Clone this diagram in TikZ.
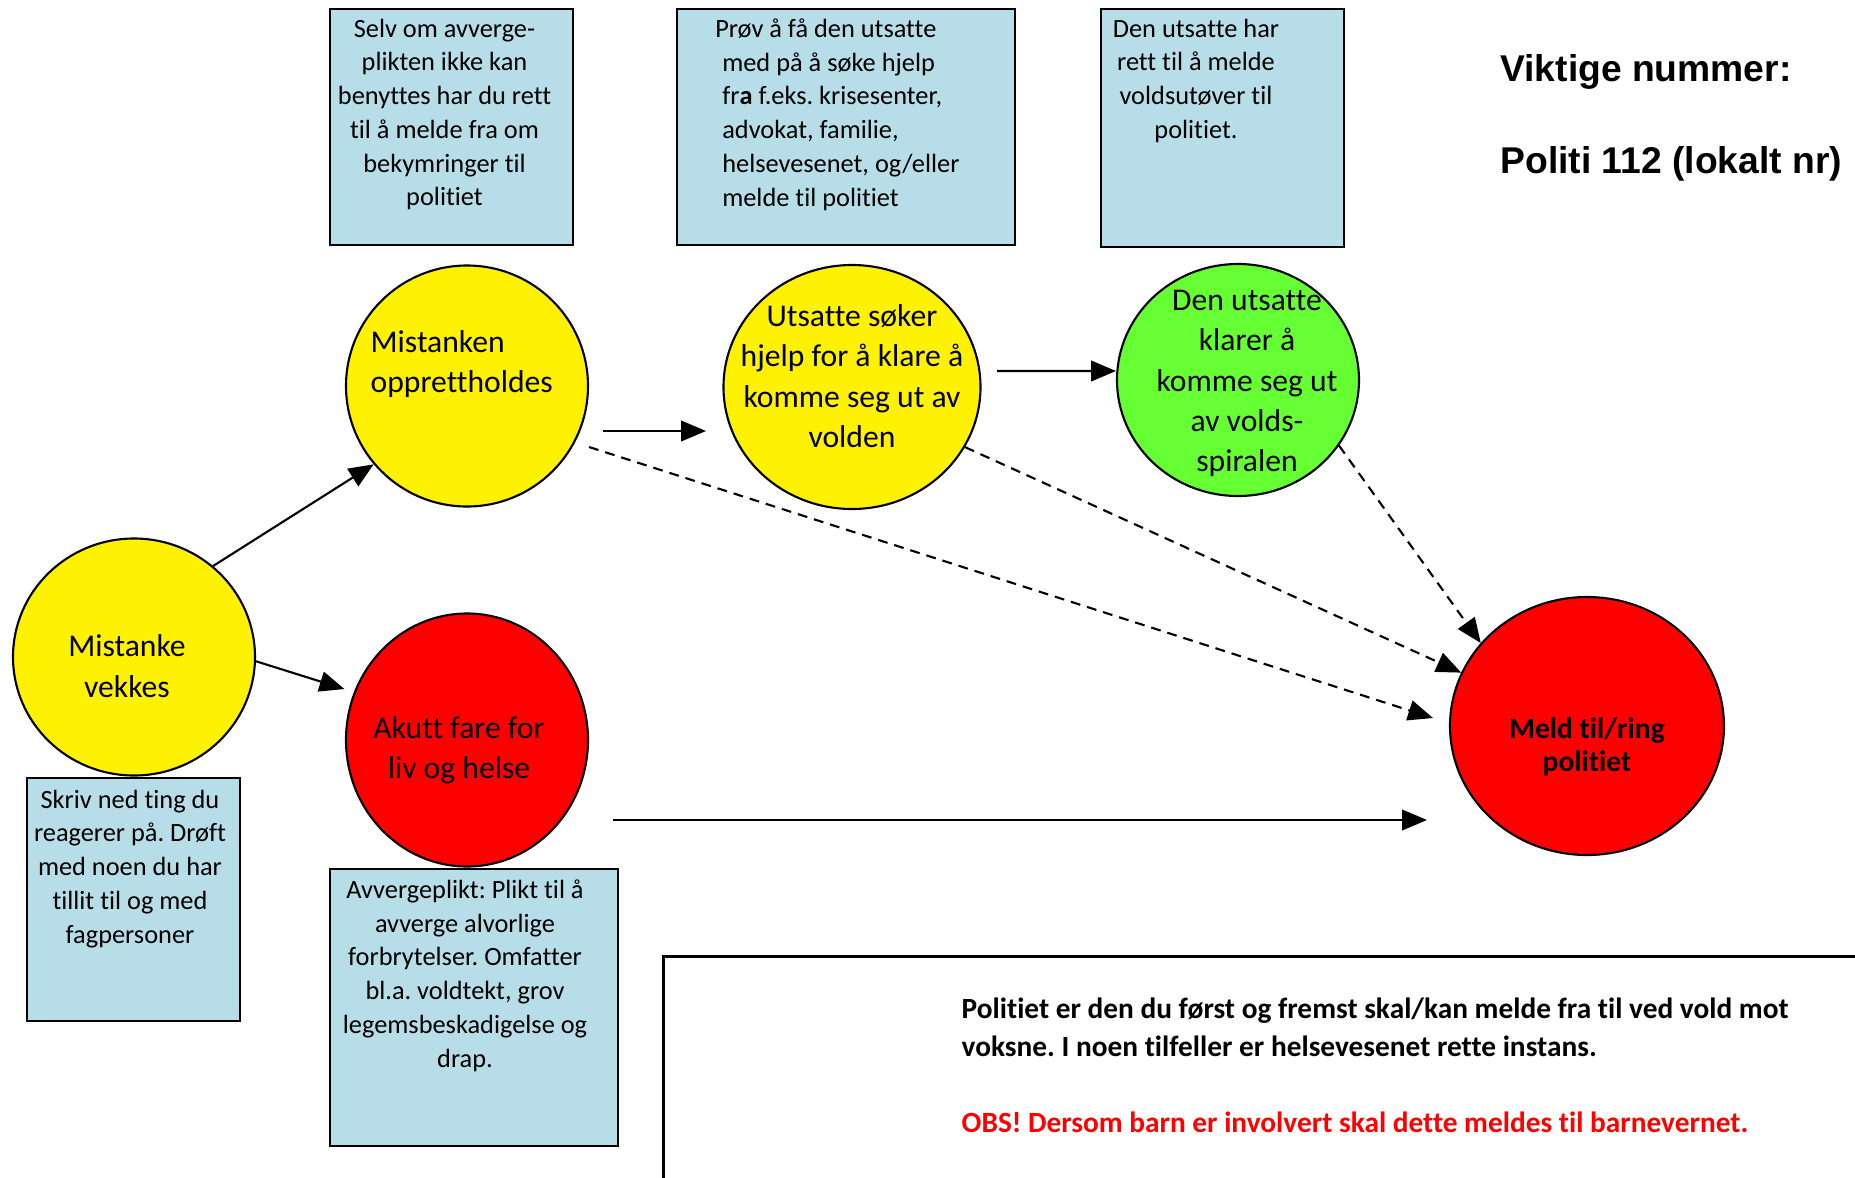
\documentclass[tikz,border=0pt]{standalone}
\usepackage{fontspec}
\setmainfont{Carlito}[Ligatures=NoCommon]
\newfontfamily\arialfont{Liberation Sans}
\frenchspacing
\usetikzlibrary{arrows}
\usetikzlibrary{positioning}
\usetikzlibrary{shapes.geometric}

\definecolor{boxblue}{HTML}{B7DEE8}
\definecolor{lysgronn}{HTML}{66FF33}

\tikzset{
  sirkel/.style={ellipse, draw, line width=0.6pt, inner sep=0pt},
  sirkeltxt/.style={font=\fontsize{9}{11.5}\selectfont, align=center, inner sep=0pt},
  infoboks/.style={rectangle, draw, line width=0.8pt, fill=boxblue, inner sep=0pt},
  infotxt/.style={font=\fontsize{7.5}{9.6}\selectfont, align=center, inner sep=0pt},
  pil/.style={->, >=triangle 45, line width=0.6pt},
  stiplet/.style={pil, dash pattern=on 2.8pt off 2pt}
}

\begin{document}
\begin{tikzpicture}
\useasboundingbox (0,0) rectangle (18.55,-11.77);

% sirkler
\node[sirkel, fill=yellow, minimum width=2.42cm, minimum height=2.37cm] (vekkes) at (1.34,-6.57) {};
\node[sirkel, fill=yellow, minimum width=2.42cm, minimum height=2.41cm] (mistanken) at (4.67,-3.86) {};
\node[sirkel, fill=yellow, minimum width=2.57cm, minimum height=2.44cm] (utsatte) at (8.52,-3.87) {};
\node[sirkel, fill=lysgronn, minimum width=2.42cm, minimum height=2.32cm] (klarer) at (12.38,-3.80) {};
\node[sirkel, fill=red, minimum width=2.42cm, minimum height=2.53cm] (akutt) at (4.67,-7.40) {};
\node[sirkel, fill=red, minimum width=2.74cm, minimum height=2.58cm] (meld) at (15.87,-7.26) {};

\node[sirkeltxt] (vekkestxt) at ([shift={(-0.07,-0.09)}]vekkes.center) {Mistanke\\vekkes};
\node[sirkeltxt, align=left, anchor=west] (mistankentxt) at ([shift={(-0.97,0.22)}]mistanken.center) {Mistanken\\opprettholdes};
\node[sirkeltxt] (utsattetxt) at ([yshift=0.11cm]utsatte.center) {Utsatte søker\\hjelp for å klare å\\komme seg ut av\\volden};
\node[sirkeltxt] (klarertxt) at ([shift={(0.09,-0.035)}]klarer.center) {Den utsatte\\klarer å\\komme seg ut\\av volds-\\spiralen};
\node[sirkeltxt] (akutttxt) at ([shift={(-0.08,-0.1)}]akutt.center) {Akutt fare for\\liv og helse};
\node[sirkeltxt, font=\bfseries\fontsize{8.4}{9.2}\selectfont] (meldtxt) at ([yshift=-0.21cm]meld.center) {Meld til/ring\\politiet};

% bokser
\node[infoboks, minimum width=2.43cm, minimum height=2.36cm] (selvbox) at (4.515,-1.27) {};
\node[infotxt, below=0.105cm of selvbox.north, xshift=-0.07cm] (selvtxt) {Selv om avverge-\\plikten ikke kan\\benyttes har du rett\\til å melde fra om\\bekymringer til\\politiet};

\node[infoboks, minimum width=3.38cm, minimum height=2.36cm] (provbox) at (8.46,-1.27) {};
\node[infotxt, align=left, anchor=north west] (provtxt) at ([shift={(0.46,-0.105)}]provbox.north west) {\hspace*{-0.07cm}Prøv å få den utsatte\\med på å søke hjelp\\fr\textbf{a} f.eks. krisesenter,\\advokat, familie,\\helsevesenet, og/eller\\melde til politiet};

\node[infoboks, minimum width=2.43cm, minimum height=2.38cm] (denbox) at (12.225,-1.28) {};
\node[infotxt, below=0.105cm of denbox.north, xshift=-0.265cm] (dentxt) {Den utsatte har\\rett til å melde\\voldsutøver til\\politiet.};

\node[infoboks, minimum width=2.13cm, minimum height=2.43cm] (skrivbox) at (1.335,-8.995) {};
\node[infotxt, below=0.125cm of skrivbox.north, xshift=-0.035cm] (skrivtxt) {Skriv ned ting du\\reagerer på. Drøft\\med noen du har\\tillit til og med\\fagpersoner};

\node[infoboks, minimum width=2.88cm, minimum height=2.77cm] (avvbox) at (4.74,-10.075) {};
\node[infotxt, below=0.115cm of avvbox.north, xshift=-0.09cm] (avvtxt) {Avvergeplikt: Plikt til å\\avverge alvorlige\\forbrytelser. Omfatter\\bl.a. voldtekt, grov\\legemsbeskadigelse og\\drap.};

% viktige nummer
\node[anchor=west, font=\arialfont\bfseries\fontsize{10.6}{12}\selectfont] (viktige) at (14.88,-0.72) {Viktige nummer:};
\node[anchor=west, font=\arialfont\bfseries\fontsize{10.6}{12}\selectfont] (politi) at (14.88,-1.64) {Politi 112 (lokalt nr)};

% ramme nederst
\node[draw, line width=0.8pt, anchor=north west, minimum width=13cm, minimum height=3cm] (obsbox) at (6.62,-9.55) {};
\node[anchor=north west, align=left, inner sep=0pt, font=\bfseries\fontsize{8.35}{10.8}\selectfont] (obstxt) at (9.61,-9.97) {Politiet er den du først og fremst skal/kan melde fra til ved vold mot\\voksne. I noen tilfeller er helsevesenet rette instans.\\[10.8pt]\textcolor{red}{OBS! Dersom barn er involvert skal dette meldes til barnevernet.}};

% piler
\draw[pil] (vekkes.49) -- (mistanken.220);
\draw[pil, shorten >=0.1cm] (vekkes.-2) -- (akutt.157);
\draw[pil] ([shift={(0.14,-0.45)}]mistanken.east) -- ([shift={(-0.165,-0.44)}]utsatte.west);
\draw[pil] ([shift={(0.155,0.16)}]utsatte.east) -- ([yshift=0.09cm]klarer.west);
\draw[pil] ([shift={(0.24,-0.80)}]akutt.east) -- ([shift={(-0.22,-0.94)}]meld.west);
\draw[stiplet] ([yshift=-0.61cm]mistanken.east) -- ([shift={(-0.16,0.08)}]meld.west);
\draw[stiplet] (utsatte.-28) -- (meld.157);
\draw[stiplet] (klarer.-33) -- (meld.142);

\end{tikzpicture}
\end{document}
